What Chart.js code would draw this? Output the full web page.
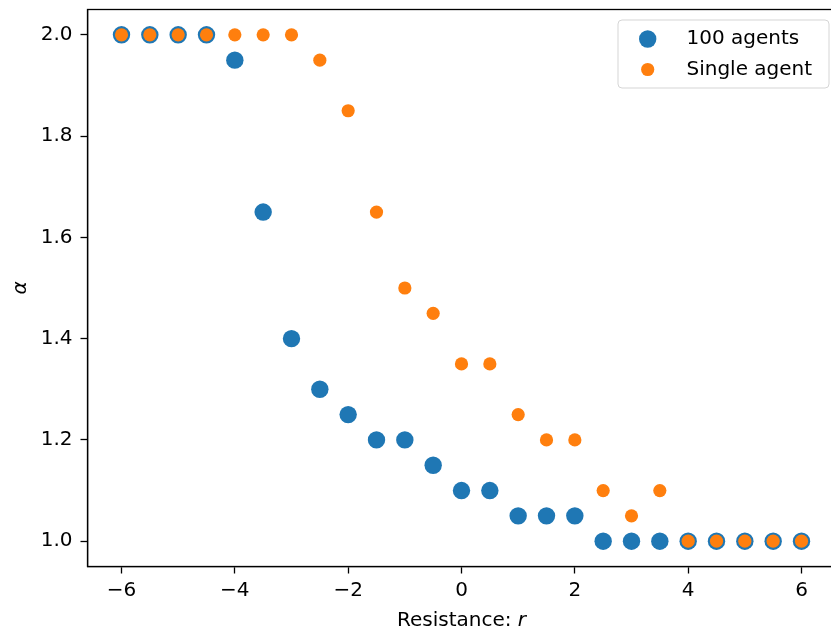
<!DOCTYPE html>
<html>
<head>
<meta charset="utf-8">
<script src="https://cdn.jsdelivr.net/npm/chart.js@4"></script>
<style>
  html, body { margin: 0; padding: 0; background: #fff; overflow: hidden; }
  #wrap { width: 831px; height: 635px; overflow: hidden; position: relative; }
  canvas { display: block; }
</style>
</head>
<body>
<div id="wrap"><canvas id="c" width="840" height="635"></canvas></div>
<script>
// ---- data ----
const rValues = [-6, -5.5, -5, -4.5, -4, -3.5, -3, -2.5, -2, -1.5, -1, -0.5, 0, 0.5, 1, 1.5, 2, 2.5, 3, 3.5, 4, 4.5, 5, 5.5, 6];
const alpha100 = [2.0, 2.0, 2.0, 2.0, 1.95, 1.65, 1.4, 1.3, 1.25, 1.2, 1.2, 1.15, 1.1, 1.1, 1.05, 1.05, 1.05, 1.0, 1.0, 1.0, 1.0, 1.0, 1.0, 1.0, 1.0];
const alphaSingle = [2.0, 2.0, 2.0, 2.0, 2.0, 2.0, 2.0, 1.95, 1.85, 1.65, 1.5, 1.45, 1.35, 1.35, 1.25, 1.2, 1.2, 1.1, 1.05, 1.1, 1.0, 1.0, 1.0, 1.0, 1.0];
const xTicks = [-6, -4, -2, 0, 2, 4, 6];
const yTicks = [1.0, 1.2, 1.4, 1.6, 1.8, 2.0];
const seriesLabels = ['100 agents', 'Single agent'];

const BLUE = '#1f77b4', ORANGE = '#ff7f0e';
const FONT = "'DejaVu Sans', sans-serif";
const toPts = (ys) => rValues.map((x, i) => ({ x: x, y: ys[i] }));
const fmtNum = (v, d) => { const s = Math.abs(v).toFixed(d); return v < 0 ? '\u2212' + s : s; };

const framePlugin = {
  id: 'frame',
  afterDatasetsDraw(chart) {
    const { ctx, chartArea: a } = chart;
    ctx.save();
    ctx.strokeStyle = '#000';
    ctx.lineWidth = 1.3;
    ctx.strokeRect(a.left, a.top, a.right - a.left, a.bottom - a.top);
    ctx.restore();
  },
  afterDraw(chart) {
    const { ctx, chartArea: a } = chart;
    ctx.save();
    // x title
    ctx.fillStyle = '#000';
    ctx.textBaseline = 'alphabetic';
    const base = "20px " + FONT;
    const ital = "italic 20px " + FONT;
    ctx.font = base;
    const t1 = 'Resistance: ';
    const w1 = ctx.measureText(t1).width;
    ctx.font = ital;
    const w2 = ctx.measureText('r').width;
    const cx = (a.left + a.right) / 2;
    let sx = cx - (w1 + w2) / 2;
    ctx.font = base;
    ctx.textAlign = 'left';
    ctx.fillText(t1, sx, 626);
    ctx.font = ital;
    ctx.fillText('r', sx + w1, 626);
    // y title
    ctx.translate(21, (a.top + a.bottom) / 2);
    ctx.rotate(-Math.PI / 2);
    ctx.textAlign = 'center';
    ctx.textBaseline = 'middle';
    ctx.font = ital;
    ctx.fillText('\u03b1', 0, 0);
    ctx.restore();

    // legend
    ctx.save();
    const lx = 618, ly = 20, lw = 211, lh = 68, r = 4;
    ctx.beginPath();
    ctx.moveTo(lx + r, ly);
    ctx.lineTo(lx + lw - r, ly);
    ctx.quadraticCurveTo(lx + lw, ly, lx + lw, ly + r);
    ctx.lineTo(lx + lw, ly + lh - r);
    ctx.quadraticCurveTo(lx + lw, ly + lh, lx + lw - r, ly + lh);
    ctx.lineTo(lx + r, ly + lh);
    ctx.quadraticCurveTo(lx, ly + lh, lx, ly + lh - r);
    ctx.lineTo(lx, ly + r);
    ctx.quadraticCurveTo(lx, ly, lx + r, ly);
    ctx.closePath();
    ctx.fillStyle = 'rgba(255,255,255,0.8)';
    ctx.fill();
    ctx.strokeStyle = '#d5d5d5';
    ctx.lineWidth = 1;
    ctx.stroke();
    const items = [
      { label: seriesLabels[0], color: BLUE, rad: 8.7, y: 39 },
      { label: seriesLabels[1], color: ORANGE, rad: 6.6, y: 69.5 }
    ];
    ctx.font = base;
    ctx.textAlign = 'left';
    ctx.textBaseline = 'middle';
    items.forEach(it => {
      ctx.beginPath();
      ctx.arc(647.7, it.y, it.rad, 0, Math.PI * 2);
      ctx.fillStyle = it.color;
      ctx.fill();
      ctx.fillStyle = '#000';
      ctx.fillText(it.label, 686.5, it.y);
    });
    ctx.restore();
  }
};

new Chart(document.getElementById('c'), {
  type: 'scatter',
  data: {
    datasets: [
      {
        label: seriesLabels[1],
        data: toPts(alphaSingle),
        backgroundColor: ORANGE,
        borderWidth: 0,
        pointRadius: 6.6,
        pointHoverRadius: 6.6,
        order: 0
      },
      {
        label: seriesLabels[0],
        data: toPts(alpha100),
        backgroundColor: BLUE,
        borderWidth: 0,
        pointRadius: 8.7,
        pointHoverRadius: 8.7,
        order: 1
      }
    ]
  },
  options: {
    responsive: false,
    animation: false,
    devicePixelRatio: 1,
    events: [],
    layout: { autoPadding: false, padding: { left: 0, top: 9.5, right: 4.5, bottom: 0 } },
    plugins: { legend: { display: false }, tooltip: { enabled: false } },
    scales: {
      x: {
        type: 'linear',
        min: -6.6, max: 6.6,
        afterBuildTicks: (s) => { s.ticks = xTicks.map(v => ({ value: v })); },
        afterFit: (s) => { s.height = 68.5; s.paddingLeft = 0; s.paddingRight = 0; },
        grid: { display: true, drawOnChartArea: false, drawTicks: true, tickLength: 7, tickColor: '#000', tickWidth: 1.3 },
        border: { display: true, color: '#000', width: 1.3 },
        ticks: { color: '#000', font: { family: FONT, size: 20 }, padding: 5, maxRotation: 0, autoSkip: false,
                 callback: (v) => fmtNum(v, 0) }
      },
      y: {
        type: 'linear',
        min: 0.95, max: 2.05,
        afterBuildTicks: (s) => { s.ticks = yTicks.map(v => ({ value: v })); },
        afterFit: (s) => { s.width = 87.5; s.paddingTop = 0; s.paddingBottom = 0; },
        grid: { display: true, drawOnChartArea: false, drawTicks: true, tickLength: 7, tickColor: '#000', tickWidth: 1.3 },
        border: { display: true, color: '#000', width: 1.3 },
        ticks: { color: '#000', font: { family: FONT, size: 20 }, padding: 8, autoSkip: false,
                 callback: (v) => fmtNum(v, 1) }
      }
    }
  },
  plugins: [framePlugin]
});
</script>
</body>
</html>
